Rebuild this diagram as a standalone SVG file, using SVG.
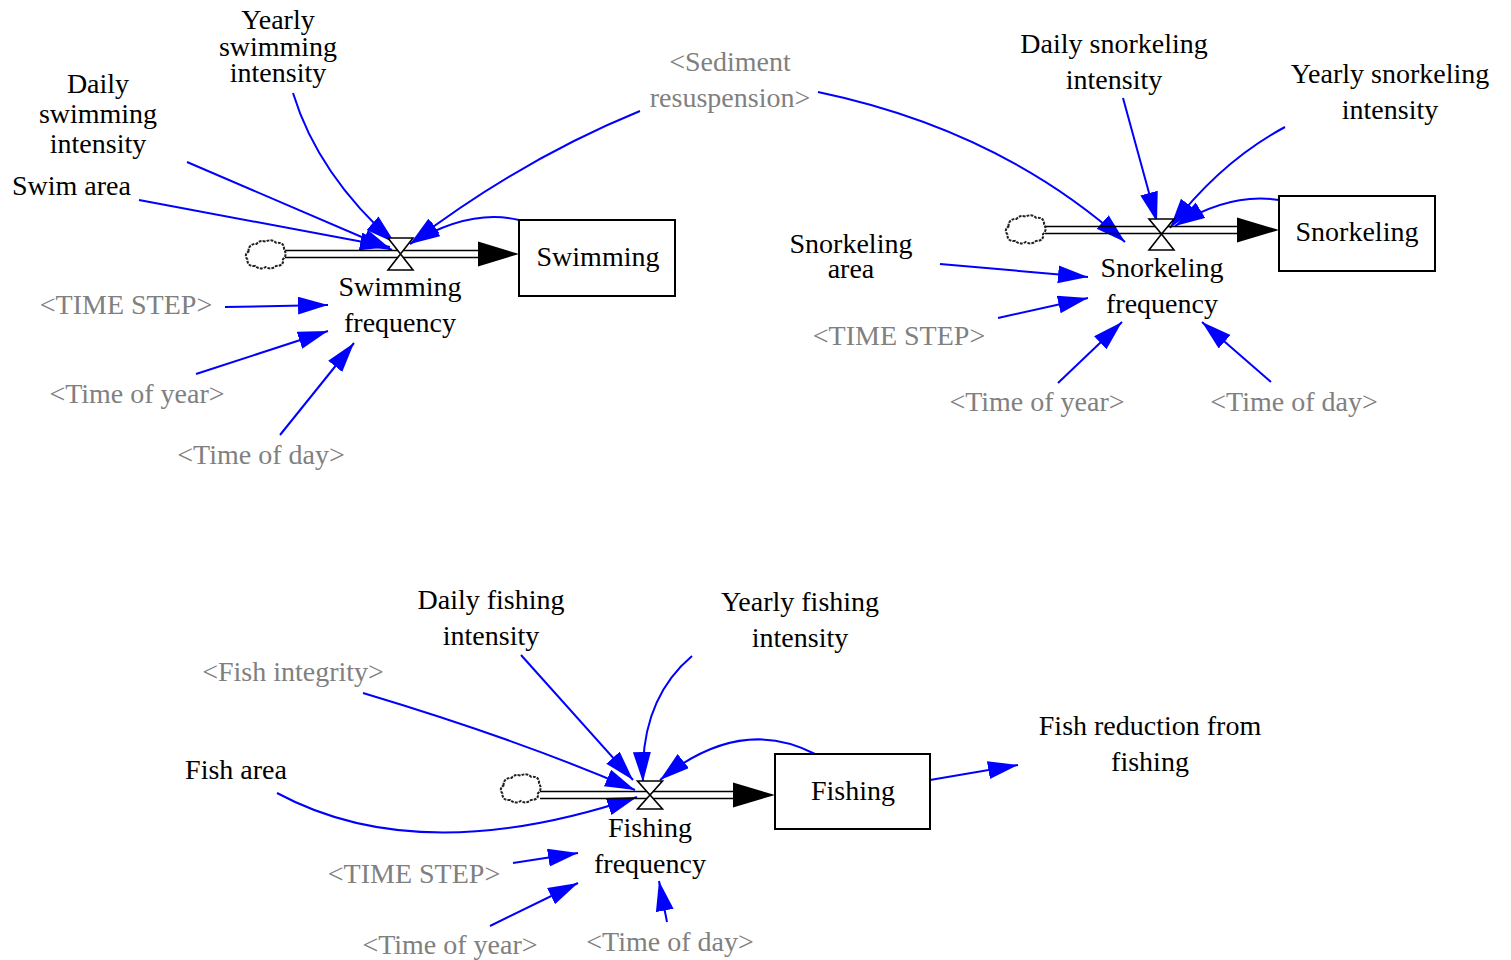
<svg xmlns="http://www.w3.org/2000/svg" width="1511" height="960" viewBox="0 0 1511 960">
<defs>
<style>
text{font-family:"Liberation Serif","Times New Roman",serif;font-size:28px;fill:#000;text-anchor:middle}
text.sh{fill:#808080}
text.l{text-anchor:start}
.box{fill:#fff;stroke:#000;stroke-width:2}
.link{fill:none;stroke:#0000ff;stroke-width:2;marker-end:url(#ah)}
.pipe{fill:none;stroke:#000;stroke-width:1.6}
.valve{fill:#fff;stroke:#000;stroke-width:1.6}
.cloud{fill:#fff;stroke:#222;stroke-width:1.8;stroke-dasharray:2.5 1}
</style>
<marker id="ah" markerUnits="userSpaceOnUse" markerWidth="32" markerHeight="20" refX="30" refY="9" orient="auto">
<path d="M0,0 L30,9 L0,18 z" fill="#0000ff"/>
</marker>
<path id="cloud" d="M-17,-4 q0,-7 7,-7 q3,-4 8,-2 q5,-3 9,1 q7,-1 7,6 q3,5 -1,9 q1,6 -6,6 q-4,4 -9,1 q-5,3 -9,-1 q-7,1 -7,-6 q-3,-4 1,-7 z"/>
</defs>

<g id="connectors">
<!-- swimming -->
<path class="link" d="M293,93 Q318,175 395,243"/>
<path class="link" d="M187,162 L392,250"/>
<path class="link" d="M139,200 L390,247"/>
<path class="link" d="M640,111 Q520,160 410,244"/>
<path class="link" d="M519,220 Q470,208 410,244"/>
<path class="link" d="M225,307 L328,305"/>
<path class="link" d="M196,374 L328,331"/>
<path class="link" d="M280,435 L354,343"/>
<!-- snorkeling -->
<path class="link" d="M818,92 Q1000,130 1125,242"/>
<path class="link" d="M1123,98 L1157,222"/>
<path class="link" d="M1285,127 Q1220,162 1170,228"/>
<path class="link" d="M1279,200 Q1230,192 1175,226"/>
<path class="link" d="M940,264 L1088,277"/>
<path class="link" d="M998,318 L1088,298"/>
<path class="link" d="M1058,383 L1122,322"/>
<path class="link" d="M1271,382 L1202,322"/>
<!-- fishing -->
<path class="link" d="M521,655 L633,780"/>
<path class="link" d="M692,656 Q640,700 643,782"/>
<path class="link" d="M363,693 Q520,740 635,790"/>
<path class="link" d="M277,793 Q420,870 637,797"/>
<path class="link" d="M815,754 Q740,715 660,780"/>
<path class="link" d="M930,780 L1018,765"/>
<path class="link" d="M513,863 L578,853"/>
<path class="link" d="M490,926 L578,883"/>
<path class="link" d="M667,922 L659,881"/>
</g>

<!-- Swimming flow -->
<g id="swimming-flow">
<path class="pipe" d="M285,250.5 H480 M285,257.5 H480"/>
<use href="#cloud" class="cloud" transform="translate(268,256) scale(1.15,1.1)"/>
<path d="M478,241.5 L519,254 L478,266.5 z" fill="#000"/>
<path class="valve" d="M388,238 L413,238 L400.5,254 z M400.5,254 L413,270 L388,270 z"/>
<text x="400" y="296">Swimming</text>
<text x="400" y="332">frequency</text>
</g>
<g id="swimming"><rect class="box" x="519" y="220" width="156" height="76"/><text x="598" y="266">Swimming</text></g>
<g id="yearly-swimming-intensity"><text x="278" y="29">Yearly</text><text x="278" y="56">swimming</text><text x="278" y="82">intensity</text></g>
<g id="daily-swimming-intensity"><text x="98" y="93">Daily</text><text x="98" y="123">swimming</text><text x="98" y="153">intensity</text></g>
<g id="swim-area"><text class="l" x="12" y="195">Swim area</text></g>
<g id="sediment-resuspension"><text class="sh" x="730" y="71">&lt;Sediment</text><text class="sh" x="730" y="107">resuspension&gt;</text></g>
<g id="time-step-1"><text class="sh" x="126" y="314">&lt;TIME STEP&gt;</text></g>
<g id="time-of-year-1"><text class="sh" x="137" y="403">&lt;Time of year&gt;</text></g>
<g id="time-of-day-1"><text class="sh" x="261" y="464">&lt;Time of day&gt;</text></g>

<!-- Snorkeling flow -->
<g id="snorkeling-flow">
<path class="pipe" d="M1045,226.5 H1240 M1045,233.5 H1240"/>
<use href="#cloud" class="cloud" transform="translate(1028,231) scale(1.15,1.1)"/>
<path d="M1237,217.5 L1279,230 L1237,242.5 z" fill="#000"/>
<path class="valve" d="M1149,219 L1174,219 L1161.5,234 z M1161.5,234 L1174,250 L1149,250 z"/>
<text x="1162" y="277">Snorkeling</text>
<text x="1162" y="313">frequency</text>
</g>
<g id="snorkeling"><rect class="box" x="1279" y="196" width="156" height="75"/><text x="1357" y="241">Snorkeling</text></g>
<g id="daily-snorkeling-intensity"><text x="1114" y="53">Daily snorkeling</text><text x="1114" y="89">intensity</text></g>
<g id="yearly-snorkeling-intensity"><text x="1390" y="83">Yearly snorkeling</text><text x="1390" y="119">intensity</text></g>
<g id="snorkeling-area"><text x="851" y="253">Snorkeling</text><text x="851" y="278">area</text></g>
<g id="time-step-2"><text class="sh" x="899" y="345">&lt;TIME STEP&gt;</text></g>
<g id="time-of-year-2"><text class="sh" x="1037" y="411">&lt;Time of year&gt;</text></g>
<g id="time-of-day-2"><text class="sh" x="1294" y="411">&lt;Time of day&gt;</text></g>

<!-- Fishing flow -->
<g id="fishing-flow">
<path class="pipe" d="M540,791.5 H735 M540,798.5 H735"/>
<use href="#cloud" class="cloud" transform="translate(523,790) scale(1.15,1.1)"/>
<path d="M733,782.5 L775,795 L733,807.5 z" fill="#000"/>
<path class="valve" d="M637.5,781 L662.5,781 L650,795 z M650,795 L662.5,809 L637.5,809 z"/>
<text x="650" y="837">Fishing</text>
<text x="650" y="873">frequency</text>
</g>
<g id="fishing"><rect class="box" x="775" y="754" width="155" height="75"/><text x="853" y="800">Fishing</text></g>
<g id="daily-fishing-intensity"><text x="491" y="609">Daily fishing</text><text x="491" y="645">intensity</text></g>
<g id="yearly-fishing-intensity"><text x="800" y="611">Yearly fishing</text><text x="800" y="647">intensity</text></g>
<g id="fish-integrity"><text class="sh" x="293" y="681">&lt;Fish integrity&gt;</text></g>
<g id="fish-area"><text x="236" y="779">Fish area</text></g>
<g id="fish-reduction-from-fishing"><text x="1150" y="735">Fish reduction from</text><text x="1150" y="771">fishing</text></g>
<g id="time-step-3"><text class="sh" x="414" y="883">&lt;TIME STEP&gt;</text></g>
<g id="time-of-year-3"><text class="sh" x="450" y="954">&lt;Time of year&gt;</text></g>
<g id="time-of-day-3"><text class="sh" x="670" y="951">&lt;Time of day&gt;</text></g>
</svg>
